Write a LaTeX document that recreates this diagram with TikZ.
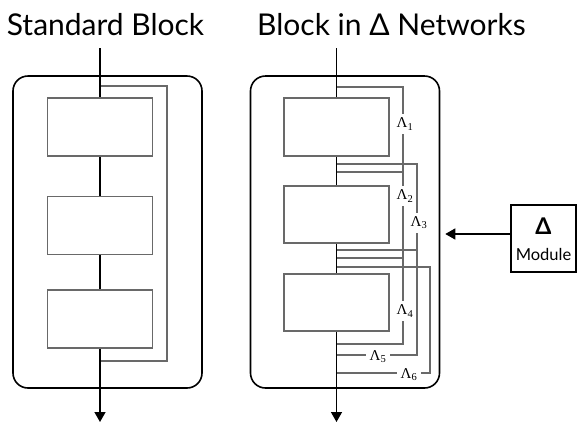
\documentclass[tikz,border=0pt]{standalone}
\usepackage{fontspec}
\setsansfont{Lato}
\newfontfamily\lamfont{Liberation Serif}
\usepackage{amsmath}
\usetikzlibrary{arrows.meta}

\newcommand\lamsub[1]{Λ\textsubscript{#1}}

\begin{document}
\begin{tikzpicture}[x=1pt,y=-1pt,
  blk/.style={draw=blk_gray,line width=1.6pt,minimum width=105pt,minimum height=58pt,inner sep=0pt},
  frame/.style={draw=black,line width=1.6pt,rounded corners=15pt,minimum width=189pt,minimum height=312pt,inner sep=0pt},
  mainline/.style={draw=black,line width=1.5pt},
  skip/.style={draw=blk_gray,line width=1.5pt},
  lam/.style={fill=white,inner xsep=2pt,inner ysep=3.5pt,font=\lamfont\fontsize{15}{15}\selectfont},
  title/.style={anchor=base,font=\sffamily\fontsize{30}{32}\selectfont},
  >={Triangle[length=10pt,width=11pt]}]

% ------------------------------------------------ colors
\definecolor{blk_gray}{RGB}{105,105,105}

\useasboundingbox (0,0) rectangle (581,432);

% titles
\node[title] (stdtitle) at (105.5,35) {Standard Block};
\node[title] (deltatitle) at (391.5,35) {Block in Δ Networks};

% ------------------------------------------------ standard block
\node[frame] (stdframe) at (107.5,232) {};
\node[blk] (sb1) at (100,127) {};
\node[blk] (sb2) at (100,225.5) {};
\node[blk] (sb3) at (100,319) {};
\coordinate (stdtop) at (100,48);
\coordinate (stdout) at (100,422);

% skip connection
\draw[skip] (100,86) -- (167,86) -- (167,361) -- (100,361);

\draw[mainline] (stdtop) -- (sb1.north);
\draw[mainline] (sb1.south) -- (sb2.north);
\draw[mainline] (sb2.south) -- (sb3.north);
\draw[mainline,->] (sb3.south) -- (stdout);

% ------------------------------------------------ block in delta networks
\node[frame] (deltaframe) at (345,232) {};
\node[blk] (db1) at (336.5,127) {};
\node[blk,minimum height=57pt] (db2) at (336.5,214.5) {};
\node[blk,minimum height=57pt] (db3) at (336.5,302.5) {};
\coordinate (deltatop) at (336.5,48);
\coordinate (deltaout) at (336.5,422);

% lambda connections
\draw[skip] (336.5,87) -- (403,87) -- (403,172) -- (336.5,172);
\draw[skip] (403,172) -- (403,258) -- (336.5,258);
\draw[skip] (336.5,164) -- (417,164) -- (417,250) -- (336.5,250);
\draw[skip] (403,258) -- (403,344) -- (336.5,344);
\draw[skip] (417,250) -- (417,355) -- (336.5,355);
\draw[skip] (336.5,267) -- (430,267) -- (430,373) -- (336.5,373);

\node[lam] (lam1) at (405,124) {\lamsub{1}};
\node[lam] (lam2) at (405,196) {\lamsub{2}};
\node[lam] (lam3) at (419,223) {\lamsub{3}};
\node[lam] (lam4) at (405,311) {\lamsub{4}};
\node[lam,inner xsep=4pt] (lam5) at (378,357) {\lamsub{5}};
\node[lam,inner xsep=4pt] (lam6) at (409,375) {\lamsub{6}};

\draw[mainline] (deltatop) -- (db1.north);
\draw[mainline] (db1.south) -- (db2.north);
\draw[mainline] (db2.south) -- (db3.north);
\draw[mainline,->] (db3.south) -- (deltaout);

% ------------------------------------------------ delta module
\node[draw=black,line width=1.6pt,minimum width=65pt,minimum height=67pt,inner sep=0pt] (module) at (543.5,238.5) {};
\node[font=\sffamily\bfseries\fontsize{23}{23}\selectfont,inner sep=0pt] (mdelta) at (543.5,226) {Δ};
\node[font=\sffamily\fontsize{16.5}{16.5}\selectfont,inner sep=0pt] (mname) at (543.5,254) {Module};
\draw[mainline,->,shorten >=5pt] ([yshift=4.5pt]module.west) -- ([yshift=4.5pt]module.west -| deltaframe.east);

\end{tikzpicture}
\end{document}
